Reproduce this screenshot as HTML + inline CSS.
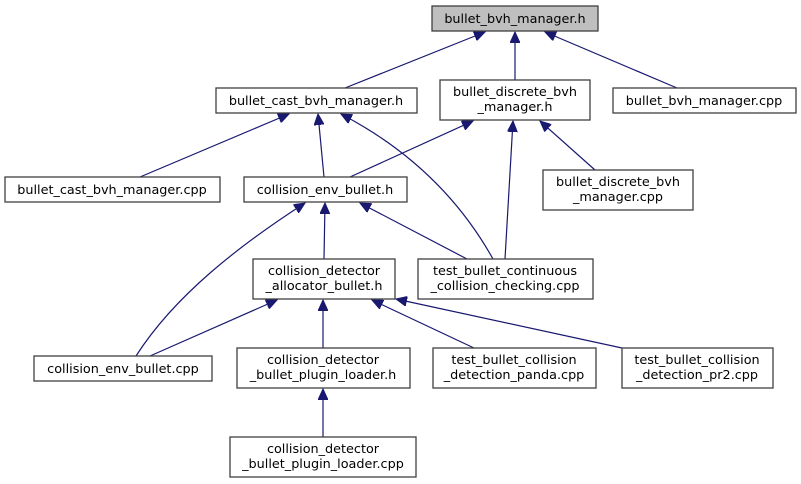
<!DOCTYPE html>
<html><head><meta charset="utf-8"><style>
html,body{margin:0;padding:0;background:#fff;}
svg{display:block;}
text{font-family:"DejaVu Sans","Liberation Sans",sans-serif;font-size:12.8px;fill:#000;text-anchor:middle;}
rect{fill:#fff;stroke:#404040;stroke-width:1.3;}
path{fill:none;stroke:#191970;stroke-width:1.2;}
</style></head><body>
<svg width="801" height="484" viewBox="0 0 801 484" xmlns="http://www.w3.org/2000/svg">
<defs>
<marker id="a" markerWidth="12" markerHeight="10" refX="11" refY="5" orient="auto" markerUnits="userSpaceOnUse">
<path d="M0,0 L11,5 L0,10 Z" style="fill:#191970;stroke:#191970;stroke-width:1"/>
</marker>
</defs>
<path d="M345,88 L485,32" marker-end="url(#a)"/>
<path d="M515,80 L515,32" marker-end="url(#a)"/>
<path d="M677,88 L545,32" marker-end="url(#a)"/>
<path d="M140,177 L289,114" marker-end="url(#a)"/>
<path d="M324,177 L318,114" marker-end="url(#a)"/>
<path d="M493,259 C460,200 410,150 341,114" marker-end="url(#a)"/>
<path d="M350,177 L473,121" marker-end="url(#a)"/>
<path d="M505,259 L513,121" marker-end="url(#a)"/>
<path d="M595,170 L540,121" marker-end="url(#a)"/>
<path d="M136,356 C175,295 240,245 305,203" marker-end="url(#a)"/>
<path d="M324,259 L325,203" marker-end="url(#a)"/>
<path d="M467,259 L360,203" marker-end="url(#a)"/>
<path d="M150,356 L277,300" marker-end="url(#a)"/>
<path d="M323,348 L323,300" marker-end="url(#a)"/>
<path d="M474,348 L372,300" marker-end="url(#a)"/>
<path d="M622,348 L396,299" marker-end="url(#a)"/>
<path d="M323,437 L323,389" marker-end="url(#a)"/>
<rect x="432" y="6" width="166" height="25" style="fill:#bfbfbf"/>
<text x="515" y="23">bullet_bvh_manager.h</text>
<rect x="216" y="88" width="201" height="25"/>
<text x="316" y="105">bullet_cast_bvh_manager.h</text>
<rect x="440" y="80" width="150" height="40"/>
<text x="515" y="96">bullet_discrete_bvh</text>
<text x="515" y="111">_manager.h</text>
<rect x="613" y="88" width="183" height="25"/>
<text x="704" y="105">bullet_bvh_manager.cpp</text>
<rect x="5" y="177" width="215" height="25"/>
<text x="112" y="194">bullet_cast_bvh_manager.cpp</text>
<rect x="244" y="177" width="163" height="25"/>
<text x="325" y="194">collision_env_bullet.h</text>
<rect x="543" y="170" width="150" height="40"/>
<text x="618" y="186">bullet_discrete_bvh</text>
<text x="618" y="201">_manager.cpp</text>
<rect x="253" y="259" width="142" height="40"/>
<text x="324" y="275">collision_detector</text>
<text x="324" y="290">_allocator_bullet.h</text>
<rect x="418" y="259" width="175" height="40"/>
<text x="505" y="275">test_bullet_continuous</text>
<text x="505" y="290">_collision_checking.cpp</text>
<rect x="34" y="356" width="178" height="25"/>
<text x="123" y="373">collision_env_bullet.cpp</text>
<rect x="237" y="348" width="173" height="40"/>
<text x="323" y="364">collision_detector</text>
<text x="323" y="379">_bullet_plugin_loader.h</text>
<rect x="433" y="348" width="163" height="40"/>
<text x="514" y="364">test_bullet_collision</text>
<text x="514" y="379">_detection_panda.cpp</text>
<rect x="622" y="348" width="151" height="40"/>
<text x="697" y="364">test_bullet_collision</text>
<text x="697" y="379">_detection_pr2.cpp</text>
<rect x="230" y="437" width="186" height="40"/>
<text x="323" y="453">collision_detector</text>
<text x="323" y="468">_bullet_plugin_loader.cpp</text>
</svg>
</body></html>
